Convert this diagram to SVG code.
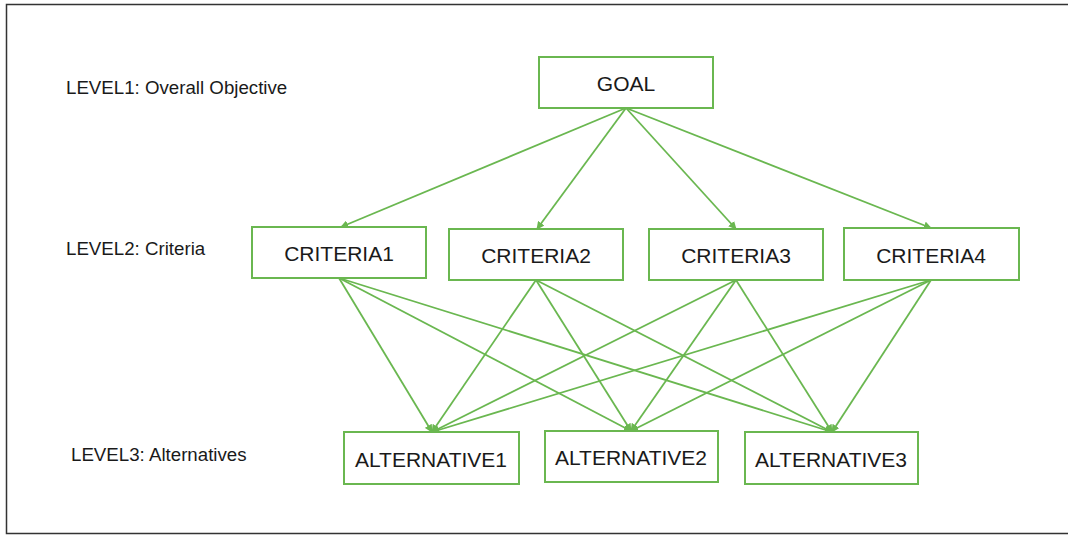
<svg xmlns="http://www.w3.org/2000/svg" width="1068" height="535" viewBox="0 0 1068 535">
  <style>
    .box { fill: #ffffff; stroke: #6ab750; stroke-width: 2; }
    .lbl { font-family: "Liberation Sans", Arial, sans-serif; font-size: 21px; fill: #1a1a1a; text-anchor: middle; dominant-baseline: central; }
    .lvl { font-family: "Liberation Sans", Arial, sans-serif; font-size: 18.7px; fill: #1a1a1a; }
    .edge { stroke: #6ab750; stroke-width: 1.8; fill: none; marker-end: url(#arrow); }
    .frame { stroke: #333333; stroke-width: 1.5; fill: none; }
  </style>
  <defs>
    <marker id="arrow" viewBox="0 0 10 10" refX="9" refY="5" markerWidth="8" markerHeight="8" markerUnits="userSpaceOnUse" orient="auto">
      <path d="M0,0 L10,5 L0,10 z" fill="#6ab750"/>
    </marker>
  </defs>
  <rect width="1068" height="535" fill="#ffffff"/>
  <path class="frame" d="M1068,4.5 L6.5,4.5 L6.5,533.5 L1068,533.5"/>

  <!-- level captions -->
  <text class="lvl" x="66" y="94">LEVEL1: Overall Objective</text>
  <text class="lvl" x="66" y="255">LEVEL2: Criteria</text>
  <text class="lvl" x="71" y="461">LEVEL3: Alternatives</text>

  <g id="connectors">
    <!-- goal to criteria -->
    <line class="edge" x1="626" y1="108" x2="341" y2="227"/>
    <line class="edge" x1="626" y1="108" x2="537" y2="229"/>
    <line class="edge" x1="626" y1="108" x2="736" y2="229"/>
    <line class="edge" x1="626" y1="108" x2="931" y2="228"/>
    <!-- criteria to alternatives -->
    <line class="edge" x1="339" y1="278" x2="432" y2="432"/>
    <line class="edge" x1="339" y1="278" x2="631" y2="431"/>
    <line class="edge" x1="339" y1="278" x2="832" y2="432"/>
    <line class="edge" x1="536" y1="280" x2="432" y2="432"/>
    <line class="edge" x1="536" y1="280" x2="631" y2="431"/>
    <line class="edge" x1="536" y1="280" x2="832" y2="432"/>
    <line class="edge" x1="736" y1="280" x2="432" y2="432"/>
    <line class="edge" x1="736" y1="280" x2="631" y2="431"/>
    <line class="edge" x1="736" y1="280" x2="832" y2="432"/>
    <line class="edge" x1="931" y1="280" x2="432" y2="432"/>
    <line class="edge" x1="931" y1="280" x2="631" y2="431"/>
    <line class="edge" x1="931" y1="280" x2="832" y2="432"/>
  </g>

  <g id="goal">
    <rect class="box" x="539" y="57" width="174" height="51"/>
    <text class="lbl" x="626" y="83">GOAL</text>
  </g>

  <g id="criteria1">
    <rect class="box" x="252" y="227" width="174" height="51"/>
    <text class="lbl" x="339" y="253">CRITERIA1</text>
  </g>
  <g id="criteria2">
    <rect class="box" x="449" y="229" width="174" height="51"/>
    <text class="lbl" x="536" y="255">CRITERIA2</text>
  </g>
  <g id="criteria3">
    <rect class="box" x="649" y="229" width="174" height="51"/>
    <text class="lbl" x="736" y="255">CRITERIA3</text>
  </g>
  <g id="criteria4">
    <rect class="box" x="844" y="228" width="175" height="52"/>
    <text class="lbl" x="931" y="255">CRITERIA4</text>
  </g>

  <g id="alternative1">
    <rect class="box" x="344" y="432" width="175" height="52"/>
    <text class="lbl" x="431" y="459">ALTERNATIVE1</text>
  </g>
  <g id="alternative2">
    <rect class="box" x="545" y="431" width="173" height="51"/>
    <text class="lbl" x="631" y="457">ALTERNATIVE2</text>
  </g>
  <g id="alternative3">
    <rect class="box" x="745" y="432" width="173" height="52"/>
    <text class="lbl" x="831" y="459">ALTERNATIVE3</text>
  </g>
</svg>
